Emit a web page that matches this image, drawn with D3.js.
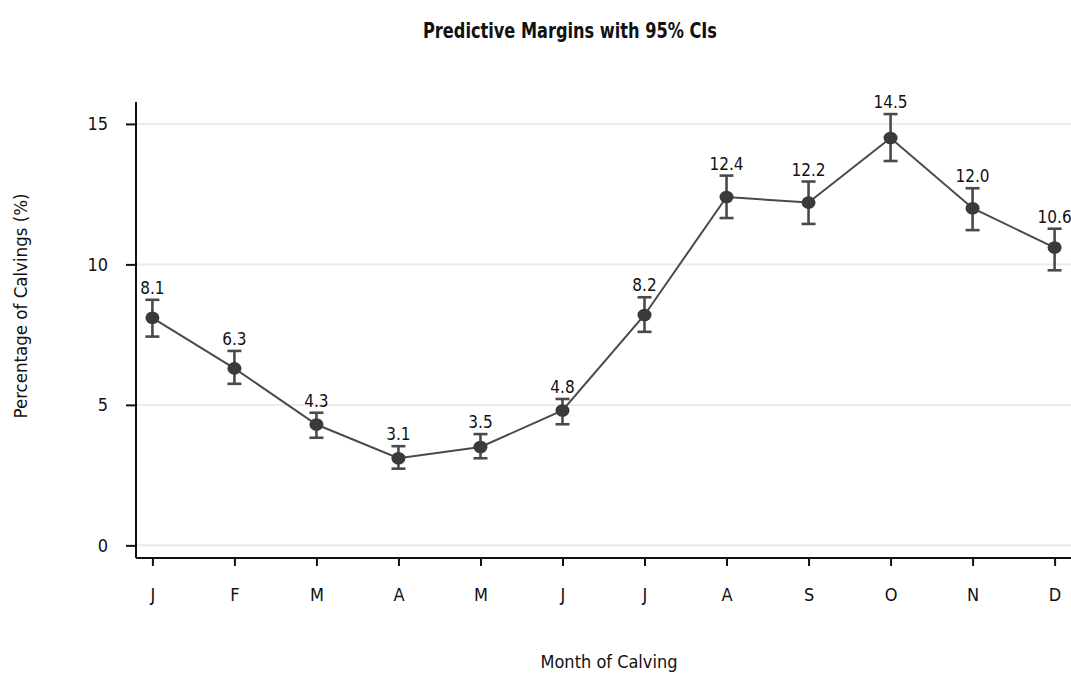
<!DOCTYPE html>
<html><head><meta charset="utf-8">
<script src="https://cdn.jsdelivr.net/npm/d3@7"></script>
<style>
body{margin:0;background:#fff;}
text{font-family:"Liberation Sans Narrow","DejaVu Sans Condensed","Open Sans",sans-serif;fill:#111;}
</style></head><body>
<svg id="c" width="1071" height="675"></svg>
<script>
const months = ["J","F","M","A","M","J","J","A","S","O","N","D"];
const margins = [8.1, 6.3, 4.3, 3.1, 3.5, 4.8, 8.2, 12.4, 12.2, 14.5, 12.0, 10.6];
const ciLow  = [7.43, 5.75, 3.83, 2.73, 3.10, 4.31, 7.60, 11.65, 11.44, 13.68, 11.22, 9.79];
const ciHigh = [8.74, 6.92, 4.72, 3.53, 3.96, 5.21, 8.83, 13.16, 12.95, 15.35, 12.71, 11.27];
const yTicks = [0, 5, 10, 15];

(function(){
const svg = d3.select("#c");
const pL = 136, pR = 1071, pT = 102, pB = 558;

const x = d3.scalePoint().domain(d3.range(months.length)).range([pL, pR]).padding(0.2);
const y = d3.scaleLinear().domain([-0.45, 15.78]).range([pB, pT]);

// gridlines
svg.append("g").selectAll("line").data(yTicks).join("line")
  .attr("x1", pL + 1).attr("x2", pR)
  .attr("y1", d => y(d)).attr("y2", d => y(d))
  .attr("stroke", "#ebebeb").attr("stroke-width", 2);

// y axis
const yAxis = svg.append("g").attr("transform", `translate(${pL},0)`)
  .call(d3.axisLeft(y).tickValues(yTicks).tickSize(10).tickPadding(18).tickFormat(d3.format("d")));
yAxis.select(".domain").attr("d", `M0,${pT}V${pB}`).attr("stroke", "#111").attr("stroke-width", 2);
yAxis.selectAll(".tick line").attr("stroke", "#111").attr("stroke-width", 2);
yAxis.selectAll(".tick text").attr("font-size", 18).attr("fill", "#111");

// x axis
const xAxis = svg.append("g").attr("transform", `translate(0,${pB})`)
  .call(d3.axisBottom(x).tickSize(8).tickPadding(22).tickFormat(i => months[i]));
xAxis.select(".domain").attr("d", `M${pL},0H${pR}`).attr("stroke", "#111").attr("stroke-width", 2);
xAxis.selectAll(".tick line").attr("stroke", "#111").attr("stroke-width", 2);
xAxis.selectAll(".tick text").attr("font-size", 18).attr("fill", "#111");

const idx = d3.range(months.length);

// line
svg.append("path").datum(idx)
  .attr("d", d3.line().x(i => x(i)).y(i => y(margins[i])))
  .attr("fill", "none").attr("stroke", "#4a4a4a").attr("stroke-width", 2);

// error bars
const eb = svg.append("g").attr("stroke", "#4a4a4a").attr("stroke-width", 2.6);
eb.selectAll("line.v").data(idx).join("line").attr("class","v")
  .attr("x1", i => x(i)).attr("x2", i => x(i))
  .attr("y1", i => y(ciLow[i])).attr("y2", i => y(ciHigh[i]));
eb.selectAll("line.t").data(idx).join("line").attr("class","t")
  .attr("x1", i => x(i) - 7).attr("x2", i => x(i) + 7)
  .attr("y1", i => y(ciHigh[i])).attr("y2", i => y(ciHigh[i]));
eb.selectAll("line.b").data(idx).join("line").attr("class","b")
  .attr("x1", i => x(i) - 7).attr("x2", i => x(i) + 7)
  .attr("y1", i => y(ciLow[i])).attr("y2", i => y(ciLow[i]));

// points
svg.append("g").selectAll("ellipse").data(idx).join("ellipse")
  .attr("cx", i => x(i)).attr("cy", i => y(margins[i]))
  .attr("rx", 7).attr("ry", 6.3)
  .attr("fill", "#3a3a3a");

// value labels
svg.append("g").selectAll("text").data(idx).join("text")
  .attr("x", i => x(i)).attr("y", i => y(ciHigh[i]) - 6)
  .attr("text-anchor", "middle").attr("font-size", 17)
  .text(i => margins[i].toFixed(1));

// title
svg.append("text").attr("x", 570).attr("y", 38).attr("text-anchor", "middle")
  .attr("font-size", 21).attr("font-weight", "bold")
  .attr("textLength", 294).attr("lengthAdjust", "spacingAndGlyphs")
  .text("Predictive Margins with 95% CIs");

// axis titles
svg.append("text").attr("x", 609).attr("y", 668).attr("text-anchor", "middle")
  .attr("font-size", 18).text("Month of Calving");
svg.append("text").attr("transform", "translate(27,306) rotate(-90)").attr("text-anchor", "middle")
  .attr("font-size", 18.5).text("Percentage of Calvings (%)");
})();
</script>
</body></html>
